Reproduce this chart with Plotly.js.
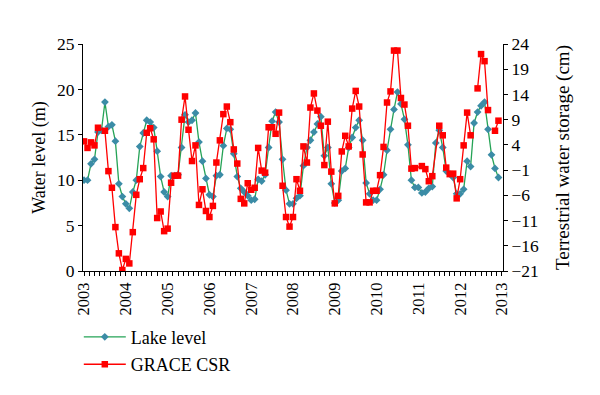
<!DOCTYPE html>
<html>
<head>
<meta charset="utf-8">
<script src="https://cdn.plot.ly/plotly-3.0.1.min.js"></script>
<style>html,body{margin:0;padding:0;background:#fff;}#chart{width:600px;height:395px;}</style>
</head>
<body>
<div id="chart"></div>
<script>
// Monthly series, Jan 2003 .. Dec 2012 (120 months)
var startYear = 2003;
var yearTicks = [2003, 2004, 2005, 2006, 2007, 2008, 2009, 2010, 2011, 2012, 2013];
var leftTicks = [0, 5, 10, 15, 20, 25];
var rightTicks = [-21, -16, -11, -6, -1, 4, 9, 14, 19, 24];

// Lake level (m)
var lakeLevel = [
  10.0, 10.0, 11.8, 12.3, 15.3, 15.5, 18.6, 15.9, 16.1, 14.3, 9.6, 8.2,
  7.4, 6.9, 8.7, 10.0, 13.7, 15.2, 16.6, 16.4, 15.8, 13.2, 10.4, 8.7,
  8.2, 10.5, 10.5, 10.6, 13.6, 17.2, 16.4, 16.6, 17.4, 14.2, 12.1, 10.2,
  8.4, 8.2, 10.5, 10.6, 13.8, 15.7, 15.6, 12.9, 10.4, 9.1, 8.7, 8.3,
  7.8, 7.9, 10.1, 9.9, 10.6, 13.6, 16.5, 17.5, 16.4, 12.3, 8.9, 7.4,
  7.4, 8.0, 8.3, 11.6, 13.6, 14.4, 15.3, 16.2, 17.0, 12.7, 13.6, 9.6,
  7.5, 7.8, 11.0, 11.3, 13.6, 14.7, 15.8, 16.6, 14.4, 9.7, 8.5, 7.8,
  7.8, 9.0, 10.6, 13.3, 15.6, 17.8, 19.7, 18.4, 16.7, 13.9, 10.0, 9.2,
  9.2, 8.6, 8.7, 9.1, 9.3, 14.1, 15.5, 13.6, 11.0, 10.7, 10.3, 8.5,
  8.5, 9.0, 12.1, 11.5, 16.3, 17.5, 18.2, 18.6, 15.6, 12.8, 11.3, 10.3
];

// GRACE CSR terrestrial water storage (cm); null = month without a solution
var graceCSR = [
  4.7, 3.4, 4.5, 3.9, 7.4, null, 6.8, -1.2, -4.5, -12.3, -17.5, -20.8,
  -18.6, -19.5, -13.3, -5.9, -2.8, -0.6, 6.4, 7.3, 5.1, -10.5, -9.2, -13.1,
  -12.6, -3.5, -2.1, -2.1, 9.0, 13.6, 7.0, 0.8, 3.9, -7.9, -4.8, -9.1,
  -10.3, -8.1, 0.5, 4.9, 10.1, 11.6, 8.5, 3.1, 0.3, -6.7, -7.6, -3.6,
  -4.9, -4.5, 3.4, -1.1, -1.5, 7.5, 7.5, 6.2, 10.4, -4.1, -10.3, -12.2,
  -10.3, -2.8, -5.1, 3.7, 0.5, 11.4, 14.2, 10.8, 7.8, 0.0, 8.6, -1.3,
  -7.6, -6.1, 2.7, 5.8, 3.7, 11.2, 14.7, 11.6, 2.1, -7.4, -7.4, -5.1,
  -5.1, -2.0, 3.6, 12.4, 14.6, 22.7, 22.7, 13.3, 12.0, 7.8, -0.7, -0.6,
  null, -0.2, -0.8, -3.2, -2.2, null, 7.8, 5.9, -0.5, -1.8, -1.7, -6.6,
  -2.8, 3.9, 10.4, 5.9, null, 15.2, 22.0, 20.6, 10.9, null, 6.8, 8.8
];
// missing months the original line is drawn across
var graceBridgedMonths = [5, 96, 101];

var lakeX = lakeLevel.map(function (v, i) { return startYear + i / 12; });
var graceX = [], graceY = [];
graceCSR.forEach(function (v, i) {
  if (v === null && graceBridgedMonths.indexOf(i) >= 0) return;
  graceX.push(startYear + i / 12);
  graceY.push(v);
});

var FONT = 'Liberation Serif, Times New Roman, serif';

var traces = [
  {
    x: lakeX, y: lakeLevel, type: 'scatter', mode: 'lines+markers',
    name: 'Lake level', legendgroup: 'a',
    line: {color: '#25a356', width: 1.3},
    marker: {symbol: 'diamond', size: 6, color: '#3b8ca6'},
    xaxis: 'x', yaxis: 'y'
  },
  {
    x: graceX, y: graceY, type: 'scatter', mode: 'lines+markers',
    name: 'GRACE CSR', legendgroup: 'b', connectgaps: false,
    line: {color: '#ff0000', width: 1.3},
    marker: {symbol: 'square', size: 6.5, color: '#ff0000'},
    xaxis: 'x', yaxis: 'y2'
  }
];

var layout = {
  width: 600, height: 395,
  margin: {l: 83, r: 97, t: 44, b: 124},
  paper_bgcolor: '#ffffff', plot_bgcolor: '#ffffff',
  font: {family: FONT, size: 16, color: '#000'},
  showlegend: true,
  legend: {
    x: -0.01, y: -0.21, xanchor: 'left', yanchor: 'top',
    font: {family: FONT, size: 18, color: '#000'},
    traceorder: 'grouped', tracegroupgap: 1, itemwidth: 42,
    bgcolor: 'rgba(0,0,0,0)'
  },
  xaxis: {
    range: [2002.975, 2013.025],
    tickmode: 'array', tickvals: yearTicks, ticktext: yearTicks.map(String),
    tickangle: -90, ticks: 'outside', ticklen: 4, tickcolor: '#000',
    minor: {ticks: 'outside', dtick: 0.125, ticklen: 4, tickcolor: '#000', showgrid: false},
    showline: true, linecolor: '#000', linewidth: 1,
    showgrid: false, zeroline: false,
    tickfont: {family: FONT, size: 16.5, color: '#000'}
  },
  yaxis: {
    range: [0, 25], tickmode: 'array', tickvals: leftTicks,
    ticks: 'outside', ticklen: 4, tickcolor: '#000',
    showline: true, linecolor: '#000', linewidth: 1,
    showgrid: false, zeroline: false,
    tickfont: {family: FONT, size: 17.5, color: '#000'},
    title: {text: 'Water level (m)', font: {family: FONT, size: 18, color: '#000'}, standoff: 6}
  },
  yaxis2: {
    range: [-21, 24], overlaying: 'y', side: 'right',
    tickmode: 'array', tickvals: rightTicks,
    ticks: 'outside', ticklen: 4, tickcolor: '#000',
    showline: true, linecolor: '#000', linewidth: 1,
    showgrid: false, zeroline: false,
    tickfont: {family: FONT, size: 17.5, color: '#000'},
    title: {text: 'Terrestrial water storage (cm)', font: {family: FONT, size: 19, color: '#000'}, standoff: 17}
  }
};

Plotly.newPlot('chart', traces, layout, {displayModeBar: false, staticPlot: true});
</script>
</body>
</html>
